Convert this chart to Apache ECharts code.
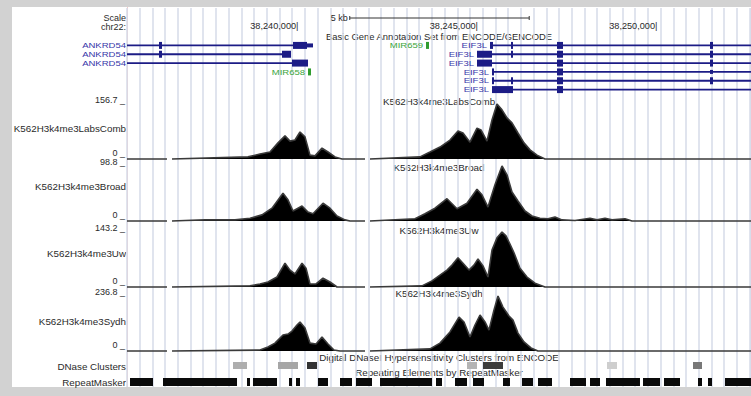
<!DOCTYPE html>
<html>
<head>
<meta charset="utf-8">
<script src="https://cdn.jsdelivr.net/npm/echarts@6/dist/echarts.min.js"></script>
<style>
html, body { margin: 0; padding: 0; background: #fff; }
#main { width: 751px; height: 396px; }
</style>
</head>
<body>
<div id="main"></div>
<script>
// chr22 window shown
const viewStart = 38235894;
const viewEnd = 38253279;
const guideStep = 354;

const rulerTicks = [38240000, 38245000, 38250000];
const rulerLabels = ['38,240,000|', '38,245,000|', '38,250,000|'];
const scaleBar = [38242100, 38247100];
const scaleLabel = '5 kb';

// regions with no data in the signal tracks
const noDataGaps = [[38237008, 38237148], [38242525, 38242664]];

// gene annotation (Basic Gene Annotation Set from ENCODE/GENCODE)
const txNames = ['ANKRD54', 'ANKRD54', 'ANKRD54', 'MIR658', 'MIR659', 'EIF3L', 'EIF3L', 'EIF3L', 'EIF3L', 'EIF3L', 'EIF3L'];
const txRows = [0, 1, 2, 3, 0, 0, 1, 2, 3, 4, 5];
const txStart = [38235000, 38235000, 38235000, 38240937, 38244224, 38246007, 38245645, 38245645, 38246063, 38246063, 38246063];
const txEnd = [38241076, 38240463, 38240937, 38241020, 38244308, 38254000, 38254000, 38254000, 38254000, 38254000, 38254000];
const txColor = ['#1c1c86', '#1c1c86', '#1c1c86', '#2f9c2f', '#2f9c2f', '#1c1c86', '#1c1c86', '#1c1c86', '#1c1c86', '#1c1c86', '#1c1c86'];
// [transcript, start, end, thick]
const exons = [
  [0, 38236786, 38236869, 1], [0, 38240519, 38240909, 1], [0, 38240909, 38241076, 0],
  [1, 38236786, 38236869, 1], [1, 38240212, 38240463, 1],
  [2, 38240491, 38240937, 1],
  [3, 38240937, 38241020, 1],
  [4, 38244224, 38244308, 1],
  [5, 38246007, 38246091, 1], [5, 38246592, 38246648, 1], [5, 38247874, 38248041, 1], [5, 38252136, 38252220, 1],
  [6, 38245645, 38246063, 1], [6, 38246592, 38246648, 1], [6, 38247874, 38248041, 1], [6, 38252136, 38252220, 1],
  [7, 38245645, 38246063, 1], [7, 38247874, 38248041, 1], [7, 38252136, 38252220, 1],
  [8, 38246063, 38246119, 1], [8, 38247874, 38248041, 1], [8, 38252136, 38252220, 0],
  [9, 38246063, 38246119, 1], [9, 38246592, 38246648, 1], [9, 38247874, 38248041, 1], [9, 38252136, 38252220, 1],
  [10, 38246063, 38246648, 1], [10, 38247874, 38248041, 1]
];

// H3K4me3 signal tracks
const trackNames = ['K562H3k4me3LabsComb', 'K562H3k4me3Broad', 'K562H3k4me3Uw', 'K562H3k4me3Sydh'];
const trackMax = [156.7, 98.8, 143.2, 236.8];

const labsPos = [38239265, 38239599, 38239878, 38240101, 38240296, 38240435, 38240574, 38240714, 38240853, 38240992, 38241132, 38241327, 38241494, 38241689, 38241884,
  38244057, 38244336, 38244614, 38244893, 38245116, 38245255, 38245450, 38245645, 38245756, 38245924, 38246063, 38246202, 38246342, 38246481, 38246620, 38246787, 38246954, 38247122, 38247317, 38247539];
const labsVal = [6, 14, 20, 46, 66, 51, 54, 77, 63, 11, 9, 31, 20, 6, 0,
  6, 20, 34, 54, 80, 74, 48, 88, 83, 51, 111, 156.7, 140, 117, 103, 74, 46, 26, 11, 0];

const broadPos = [38237510, 38238067, 38238903, 38239321, 38239655, 38239934, 38240240, 38240379, 38240519, 38240770, 38240937, 38241076, 38241355, 38241550, 38241745, 38241967, 38242107,
  38243918, 38244196, 38244475, 38244809, 38245088, 38245366, 38245645, 38245784, 38245951, 38246146, 38246342, 38246481, 38246620, 38246787, 38246982, 38247177, 38247400, 38247623, 38247818, 38248013,
  38248375, 38248793, 38248988, 38249211, 38249406, 38249768, 38249963];
const broadVal = [1, 2, 2, 5, 11, 23, 50, 38, 18, 27, 16, 13, 32, 23, 9, 2, 0,
  4, 13, 23, 40, 22, 32, 57, 47, 25, 65, 98.8, 83, 52, 36, 18, 9, 5, 4, 7, 2,
  1, 5, 2, 5, 2, 4, 0];

const uwPos = [38239321, 38239599, 38239822, 38240073, 38240296, 38240435, 38240574, 38240770, 38240881, 38240992, 38241160, 38241355, 38241550, 38241745,
  38244113, 38244391, 38244614, 38244809, 38244949, 38245116, 38245255, 38245422, 38245561, 38245673, 38245812, 38245951, 38246063, 38246202, 38246342, 38246453, 38246564, 38246676, 38246843, 38247038, 38247261, 38247539];
const uwVal = [3, 8, 13, 26, 62, 44, 34, 62, 49, 8, 8, 23, 13, 0,
  3, 16, 31, 44, 57, 76, 62, 44, 57, 73, 55, 26, 96, 128, 143.2, 133, 112, 89, 49, 26, 10, 0];

const sydhPos = [38239599, 38239822, 38240017, 38240240, 38240379, 38240491, 38240630, 38240714, 38240853, 38240992, 38241160, 38241327, 38241494, 38241661, 38241828,
  38244336, 38244614, 38244893, 38245144, 38245283, 38245450, 38245589, 38245729, 38245868, 38245979, 38246119, 38246230, 38246369, 38246537, 38246648, 38246787, 38246954, 38247149, 38247344];
const sydhVal = [4, 17, 34, 69, 73, 86, 112, 125, 99, 34, 30, 60, 30, 4, 0,
  9, 34, 82, 146, 125, 60, 112, 155, 125, 90, 177, 236.8, 189, 151, 133, 77, 39, 13, 0];

// DNase clusters
const dnaseStart = [38238847, 38240101, 38240909, 38245366, 38245812, 38249267, 38251663];
const dnaseEnd = [38239237, 38240658, 38241187, 38245645, 38246369, 38249545, 38251914];
const dnaseScore = [280, 320, 900, 250, 850, 120, 550];

// RepeatMasker
const rmskStart = [38235978, 38236897, 38239237, 38239404, 38240407, 38240602, 38241215, 38241828, 38242274, 38242943, 38244503, 38245032,
  38245534, 38246369, 38246899, 38247344, 38248236, 38248793, 38249239, 38250270, 38250855, 38251802, 38252081, 38252554];
const rmskEnd = [38236618, 38238959, 38239321, 38240073, 38240491, 38240714, 38241494, 38242163, 38242720, 38244391, 38244670, 38245366,
  38245840, 38246564, 38247205, 38247735, 38248682, 38249072, 38250186, 38250743, 38251301, 38251914, 38252192, 38253500];

const FONT = '"Liberation Sans", Arial, sans-serif';
const TXT = '#2a2a2a';

var chart = echarts.init(document.getElementById('main'), null, { renderer: 'svg' });

function buildTrack(pos, val) {
  const pts = [[viewStart, 0], [viewEnd, 0]];
  pos.forEach((p, i) => pts.push([p, val[i]]));
  noDataGaps.forEach(g => {
    pts.push([g[0], 0], [(g[0] + g[1]) / 2, '-'], [g[1], 0]);
  });
  pts.sort((a, b) => a[0] - b[0]);
  return pts;
}

const trackPos = [labsPos, broadPos, uwPos, sydhPos];
const trackVal = [labsVal, broadVal, uwVal, sydhVal];

const gridTops = [8, 41, 104, 166, 232, 296, 362, 378];
const gridHeights = [379, 53, 55, 55, 55, 55, 7, 8];

const grids = gridTops.map((t, i) => ({ left: 127, right: 0, top: t, height: gridHeights[i] }));

const xAxes = grids.map((g, i) => ({
  type: 'value', gridIndex: i, min: viewStart, max: viewEnd,
  show: i === 0,
  interval: guideStep,
  axisLine: { show: false }, axisTick: { show: false }, axisLabel: { show: false },
  splitLine: { show: i === 0, lineStyle: { color: '#d6dbe9', width: 1.5 } }
}));

const yAxes = [
  { type: 'value', gridIndex: 0, min: 0, max: 1, show: false },
  { type: 'category', gridIndex: 1, data: ['0', '1', '2', '3', '4', '5'], inverse: true, show: false }
];
trackMax.forEach((m, i) => {
  yAxes.push({
    type: 'value', gridIndex: 2 + i, min: 0, max: m, interval: m,
    axisLine: { show: false }, axisTick: { show: false }, splitLine: { show: false },
    axisLabel: {
      show: true, showMinLabel: true, showMaxLabel: true, margin: 2,
      verticalAlign: 'bottom', fontSize: 9, fontFamily: FONT, color: TXT,
      formatter: v => v === 0 ? '{lo|0 _}' : '{hi|' + m.toFixed(1) + ' _}',
      rich: {
        lo: { fontSize: 9, fontFamily: FONT, color: TXT, padding: [0, 0, 2, 0] },
        hi: { fontSize: 9, fontFamily: FONT, color: TXT }
      }
    }
  });
});
yAxes.push({ type: 'value', gridIndex: 6, min: 0, max: 1, show: false });
yAxes.push({ type: 'value', gridIndex: 7, min: 0, max: 1, show: false });

const series = [];

// ruler labels
series.push({
  type: 'custom', xAxisIndex: 0, yAxisIndex: 0, silent: true,
  data: rulerTicks.map((t, i) => [t, 0, i]),
  encode: { x: 0, y: 1 },
  renderItem: function (params, api) {
    const p = api.coord([api.value(0), 0]);
    return {
      type: 'text', x: p[0], y: params.coordSys.y + 18.5, scaleX: 1.08,
      style: { text: rulerLabels[api.value(2)], align: 'center', verticalAlign: 'middle',
        fill: TXT, fontSize: 8.5, fontFamily: FONT }
    };
  }
});

// scale bar
series.push({
  type: 'custom', xAxisIndex: 0, yAxisIndex: 0, silent: true,
  data: [[scaleBar[0], scaleBar[1]]],
  encode: { x: [0, 1] },
  renderItem: function (params, api) {
    const a = api.coord([api.value(0), 0])[0];
    const b = api.coord([api.value(1), 0])[0];
    const y = params.coordSys.y + 10;
    return {
      type: 'group', children: [
        { type: 'line', shape: { x1: a, y1: y, x2: b, y2: y }, style: { stroke: '#333', lineWidth: 1 } },
        { type: 'line', shape: { x1: a, y1: y - 2, x2: a, y2: y + 2 }, style: { stroke: '#333', lineWidth: 1 } },
        { type: 'line', shape: { x1: b, y1: y - 2, x2: b, y2: y + 2 }, style: { stroke: '#333', lineWidth: 1 } },
        { type: 'text', style: { text: scaleLabel, x: a - 2, y: y, align: 'right', verticalAlign: 'middle', fill: TXT, fontSize: 9, fontFamily: FONT } }
      ]
    };
  }
});

// transcripts (intron lines + labels)
series.push({
  type: 'custom', xAxisIndex: 1, yAxisIndex: 1, silent: true,
  data: txRows.map((r, i) => [r, txStart[i], txEnd[i], i]),
  encode: { x: [1, 2], y: 0 },
  renderItem: function (params, api) {
    const i = api.value(3);
    const row = api.value(0);
    const s = api.value(1), e = api.value(2);
    const p0 = api.coord([s, row]);
    const p1 = api.coord([e, row]);
    const cs = params.coordSys;
    const shape = echarts.graphic.clipRectByRect(
      { x: p0[0], y: p0[1] - 0.9, width: p1[0] - p0[0], height: 1.8 },
      { x: cs.x, y: cs.y, width: cs.width, height: cs.height });
    const lx = s >= viewStart ? p0[0] - 3 : cs.x - 1;
    const kids = [];
    if (shape) kids.push({ type: 'rect', shape: shape, style: { fill: txColor[i] } });
    kids.push({ type: 'text', x: lx, y: p0[1], scaleX: 1.22,
      style: { text: txNames[i], align: 'right', verticalAlign: 'middle',
        fill: txColor[i] === '#2f9c2f' ? '#3aa43a' : '#3535a8', fontSize: 7.8, fontFamily: FONT } });
    return { type: 'group', children: kids };
  }
});

// exons
series.push({
  type: 'custom', xAxisIndex: 1, yAxisIndex: 1, silent: true,
  data: exons.map(ex => [txRows[ex[0]], ex[1], ex[2], ex[3], ex[0]]),
  encode: { x: [1, 2], y: 0 },
  renderItem: function (params, api) {
    const row = api.value(0);
    const p0 = api.coord([api.value(1), row]);
    const p1 = api.coord([api.value(2), row]);
    const h = api.value(3) ? 7 : 4;
    const cs = params.coordSys;
    const shape = echarts.graphic.clipRectByRect(
      { x: p0[0], y: p0[1] - h / 2, width: Math.max(p1[0] - p0[0], 1.8), height: h },
      { x: cs.x, y: cs.y, width: cs.width, height: cs.height });
    return shape && { type: 'rect', shape: shape, style: { fill: txColor[api.value(4)] } };
  }
});

// signal tracks
trackPos.forEach((pos, i) => {
  series.push({
    type: 'line', xAxisIndex: 2 + i, yAxisIndex: 2 + i,
    data: buildTrack(pos, trackVal[i]),
    symbol: 'none', showSymbol: false, connectNulls: false, clip: false, silent: true,
    lineStyle: { color: '#3a3a3a', width: 1.6 },
    areaStyle: { color: '#000', opacity: 1 }
  });
});

// DNase clusters
series.push({
  type: 'custom', xAxisIndex: 6, yAxisIndex: 6, silent: true,
  data: dnaseStart.map((s, i) => [s, dnaseEnd[i], dnaseScore[i]]),
  encode: { x: [0, 1] },
  renderItem: function (params, api) {
    const a = api.coord([api.value(0), 0])[0];
    const b = api.coord([api.value(1), 0])[0];
    const g = Math.round(230 - api.value(2) * 0.2);
    const cs = params.coordSys;
    return { type: 'rect', shape: { x: a, y: cs.y, width: b - a, height: cs.height }, style: { fill: 'rgb(' + g + ',' + g + ',' + g + ')' } };
  }
});

// RepeatMasker
series.push({
  type: 'custom', xAxisIndex: 7, yAxisIndex: 7, silent: true,
  data: rmskStart.map((s, i) => [s, rmskEnd[i]]),
  encode: { x: [0, 1] },
  renderItem: function (params, api) {
    const cs = params.coordSys;
    const a = api.coord([api.value(0), 0])[0];
    const b = api.coord([api.value(1), 0])[0];
    const shape = echarts.graphic.clipRectByRect(
      { x: a, y: cs.y, width: b - a, height: cs.height },
      { x: cs.x, y: cs.y, width: cs.width, height: cs.height });
    return shape && { type: 'rect', shape: shape, style: { fill: '#0a0a0a' } };
  }
});

function txt(text, x, y, align, size) {
  return { type: 'text', x: x, y: y, silent: true,
    style: { text: text, align: align || 'right', verticalAlign: 'middle', fill: TXT, fontSize: size || 9.8, fontFamily: FONT } };
}

const leftTrackY = [128, 186, 253, 321];
const centerTrackY = [101, 167, 230, 293];

const graphics = [
  { type: 'rect', shape: { x: 0, y: 0, width: 12, height: 396 }, style: { fill: '#d2d2d2' }, silent: true },
  { type: 'rect', shape: { x: 0, y: 0, width: 751, height: 7 }, style: { fill: '#d2d2d2' }, silent: true },
  { type: 'rect', shape: { x: 0, y: 387, width: 751, height: 9 }, style: { fill: '#d2d2d2' }, silent: true },
  { type: 'line', shape: { x1: 127.5, y1: 7, x2: 127.5, y2: 387 }, style: { stroke: '#f3caca', lineWidth: 1 }, silent: true },
  txt('Scale', 126, 18, 'right', 9), txt('chr22:', 126, 27, 'right', 9),
  txt('Basic Gene Annotation Set from ENCODE/GENCODE', 439, 36, 'center', 9.4),
  txt('Digital DNaseI Hypersensitivity Clusters from ENCODE', 439, 357, 'center'),
  txt('Repeating Elements by RepeatMasker', 439, 372, 'center'),
  txt('DNase Clusters', 126, 366), txt('RepeatMasker', 126, 382)
];
trackNames.forEach((n, i) => {
  graphics.push(txt(n, 126, leftTrackY[i]));
  graphics.push(txt(n, 439, centerTrackY[i], 'center'));
});

chart.setOption({
  backgroundColor: '#fff',
  animation: false,
  grid: grids,
  xAxis: xAxes,
  yAxis: yAxes,
  series: series,
  graphic: graphics
});
</script>
</body>
</html>
